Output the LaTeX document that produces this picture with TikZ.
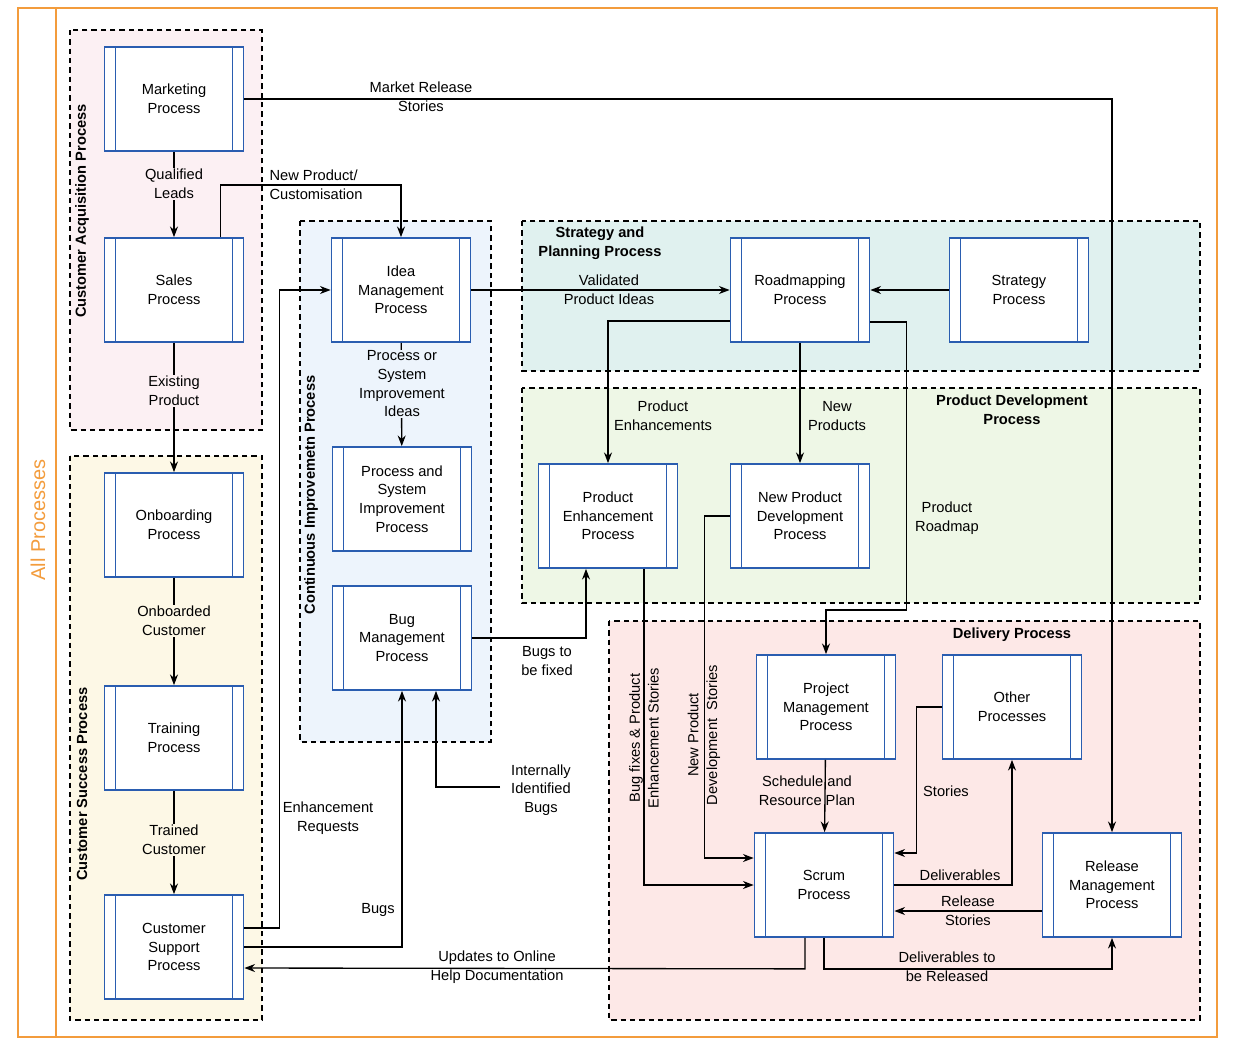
\documentclass[tikz,border=0pt]{standalone}
\usepackage{fontspec}
\setmainfont{Liberation Sans}
\usetikzlibrary{arrows.meta,calc}
\definecolor{pblue}{HTML}{2A5DB0}
\definecolor{orng}{HTML}{F39C3C}
\definecolor{gpink}{HTML}{FCF0F3}
\definecolor{gyel}{HTML}{FDF8E6}
\definecolor{gblue}{HTML}{EDF4FC}
\definecolor{gteal}{HTML}{E0F1EF}
\definecolor{ggreen}{HTML}{EEF7E6}
\definecolor{gred}{HTML}{FDE8E7}
\tikzset{
 every node/.style={font=\fontsize{11}{14}\selectfont},
 proc/.style={draw=pblue,line width=1.3pt,fill=white,minimum width=104.25pt,minimum height=78pt,align=center,inner sep=0pt,
   path picture={\draw[pblue,line width=1.3pt] ($(path picture bounding box.north west)+(11,0)$) -- ($(path picture bounding box.south west)+(11,0)$)
   ($(path picture bounding box.north east)+(-11,0)$) -- ($(path picture bounding box.south east)+(-11,0)$);}},
 grp/.style={draw=black,line width=1pt,dash pattern=on 4pt off 3pt},
 glab/.style={font=\fontsize{11}{14}\selectfont\bfseries,align=center},
 lab/.style={align=center,inner sep=1pt},
 conn/.style={line width=1pt,-{Stealth[length=8pt,width=6pt]}},
}
\begin{document}
\begin{tikzpicture}[x=0.75pt,y=-0.75pt]
\useasboundingbox (0,0) rectangle (1235,1043);
% frame
\draw[orng,line width=1.2pt] (18,8) rectangle (1217,1037) (56,8) -- (56,1037);
\node[rotate=90,text=orng,font=\fontsize{15}{18}\selectfont] (allp) at (38,520) {All Processes};
% groups
\draw[grp,fill=gpink] (70,30) rectangle (262,430);
\draw[grp,fill=gyel] (70,456) rectangle (262,1020);
\draw[grp,fill=gblue] (300,221) rectangle (491,742);
\draw[grp,fill=gteal] (522,221) rectangle (1200,371);
\draw[grp,fill=ggreen] (522,388) rectangle (1200,603);
\draw[grp,fill=gred] (609,621) rectangle (1200,1020);
\node[glab,rotate=90] (gca) at (82,211) {Customer Acquisition Process};
\node[glab,rotate=90] (gcs) at (82,784) {Customer Success Process};
\node[glab,rotate=90] (gci) at (311,495) {Continuous Improvemetn Process};
\node[glab] (gsp) at (600,243) {Strategy and\\Planning Process};
\node[glab] (gpd) at (1012,410) {Product Development\\Process};
\node[glab] (gdp) at (1012,635) {Delivery Process};
% processes
\node[proc] (mkt) at (174,99) {Marketing\\Process};
\node[proc] (sales) at (174,290) {Sales\\Process};
\node[proc] (onb) at (174,525) {Onboarding\\Process};
\node[proc] (trn) at (174,738) {Training\\Process};
\node[proc] (cs) at (174,947) {Customer\\Support\\Process};
\node[proc] (idea) at (401,290) {Idea\\Management\\Process};
\node[proc] (psi) at (402,499) {Process and\\System\\Improvement\\Process};
\node[proc] (bug) at (402,638) {Bug\\Management\\Process};
\node[proc] (road) at (800,290) {Roadmapping\\Process};
\node[proc] (strat) at (1019,290) {Strategy\\Process};
\node[proc] (pe) at (608,516) {Product\\Enhancement\\Process};
\node[proc] (npd) at (800,516) {New Product\\Development\\Process};
\node[proc] (pm) at (826,707) {Project\\Management\\Process};
\node[proc] (oth) at (1012,707) {Other\\Processes};
\node[proc] (scrum) at (824,885) {Scrum\\Process};
\node[proc] (rel) at (1112,885) {Release\\Management\\Process};
% connectors
\draw[conn] (mkt.east) -| (rel.north);
\node[lab] (l1) at (421,97) {Market Release\\Stories};
\draw[conn] (mkt) -- (sales);
\node[lab,fill=gpink] (l2) at (174,184) {Qualified\\Leads};
\draw[conn] ($(sales.north east)+(-24,0)$) -- ++(0,-52) -| (idea.north);
\node[lab,anchor=west,align=left] (l3) at (268,185) {New Product/\\Customisation};
\draw[conn] (sales) -- (onb);
\node[lab,fill=gpink] (l4) at (174,391) {Existing\\Product};
\draw[conn] (onb) -- (trn);
\node[lab,fill=gyel] (l5) at (174,621) {Onboarded\\Customer};
\draw[conn] (trn) -- (cs);
\node[lab,fill=gyel] (l6) at (174,840) {Trained\\Customer};
\draw[conn] ($(cs.east)+(0,-19)$) -- ++(35,0) |- (idea.west);
\node[lab] (l7) at (328,818) {Enhancement\\Requests};
\draw[conn] (cs.east) -| (bug.south);
\node[lab] (l8) at (378,910) {Bugs};
\draw[conn] ($(scrum.south)+(-19,0)$) -- ++(0,31) -- ($(cs.east)+(0,21)$);
\node[lab] (l9) at (497,967) {Updates to Online\\Help Documentation};
\draw[conn] (idea) -- (psi);
\node[lab,fill=gblue] (l10) at (402,384) {Process or\\System\\Improvement\\Ideas};
\draw[conn] (idea) -- (road);
\node[lab] (l11) at (609,290) {Validated\\Product Ideas};
\draw[conn] (strat) -- (road);
\draw[conn] ($(road.west)+(0,31)$) -| (pe.north);
\node[lab] (l12) at (663,416) {Product\\Enhancements};
\draw[conn] (road) -- (npd);
\node[lab] (l13) at (837,416) {New\\Products};
\draw[conn] ($(road.east)+(0,32)$) -- ++(36,0) |- ($(pm.north)+(0,-44)$) -- (pm.north);
\node[lab] (l14) at (947,518) {Product\\Roadmap};
\draw[conn] (bug.east) -| ($(pe.south)+(-22,0)$);
\node[lab] (l15) at (547,661) {Bugs to\\be fixed};
\coordinate (ib) at (500,787);
\draw[conn] (ib) -| ($(bug.south)+(34,0)$);
\node[lab] (l16) at (541,790) {Internally\\Identified\\Bugs};
\draw[conn] ($(pe.south)+(36,0)$) |- (scrum.west);
\node[lab,rotate=90] (l17) at (644,738) {Bug fixes \& Product\\Enhancement Stories};
\draw[conn] (npd.west) -- ++(-25,0) |- ($(scrum.west)+(0,-27)$);
\node[lab,rotate=90] (l18) at (704,735) {New Product\\Development~~Stories};
\draw[conn] (pm) -- (scrum);
\node[lab] (l19) at (807,791) {Schedule and\\Resource Plan};
\draw[conn] (oth.west) -- ++(-25,0) |- ($(scrum.east)+(0,-32)$);
\node[lab] (l20) at (946,791) {Stories};
\draw[conn] (scrum.east) -| (oth.south);
\node[lab] (l21) at (960,875) {Deliverables};
\draw[conn] ($(rel.west)+(0,26)$) -- ($(scrum.east)+(0,26)$);
\node[lab] (l22) at (968,911) {Release\\Stories};
\draw[conn] (scrum.south) -- ++(0,31) -| (rel.south);
\node[lab] (l23) at (947,967) {Deliverables to\\be Released};
\end{tikzpicture}
\end{document}
